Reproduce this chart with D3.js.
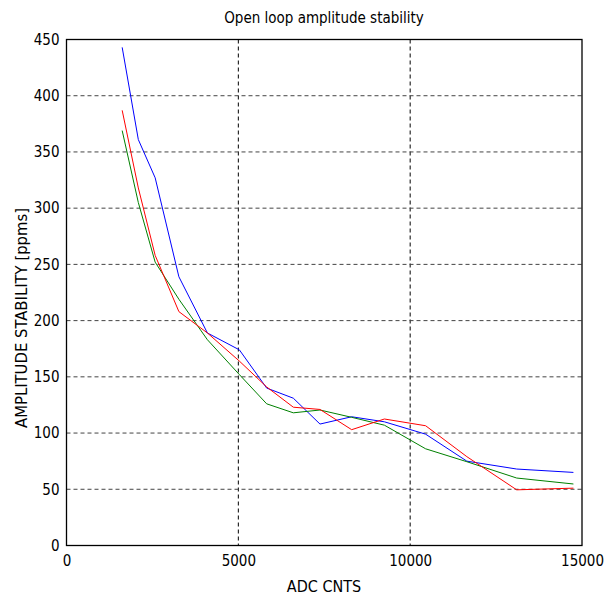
<!DOCTYPE html>
<html><head><meta charset="utf-8">
<script src="https://cdn.jsdelivr.net/npm/d3@7"></script>
<style>body{margin:0;background:#fff;} svg{display:block;}</style>
</head><body>
<svg id="c" width="606" height="597"></svg>
<script>
const adc = [1620, 2090, 2580, 3270, 4100, 5030, 5825, 6600, 7376, 8298, 9250, 10450, 11650, 13100, 14750];
const blue = [443, 361, 327, 239, 189, 174, 140, 131, 108, 114.5, 110, 99, 75, 68, 65];
const red = [387, 318, 258, 208, 189, 164, 141, 123, 121, 103, 112.5, 106.5, 79, 49.5, 51];
const green = [369, 305, 252, 219, 183, 152, 126, 118, 120.5, 114, 107, 86, 74.5, 60, 54.7];
const xTicks = [0, 5000, 10000, 15000];
const yTicks = [0, 50, 100, 150, 200, 250, 300, 350, 400, 450];
const seriesList = [{v: blue, c: "#0000ff"}, {v: green, c: "#008000"}, {v: red, c: "#ff0000"}];

const font = "'Liberation Sans Narrow','DejaVu Sans Condensed','Liberation Sans',sans-serif";
const L = 66.5, R = 582, T = 39.5, B = 545.5;
const svg = d3.select("#c");
const x = d3.scaleLinear().domain([0, 15000]).range([L, R]);
const y = d3.scaleLinear().domain([0, 450]).range([B, T]);

// grid
const g = svg.append("g");
g.selectAll("line.gx").data(xTicks.slice(1, -1)).join("line")
  .attr("x1", d => x(d)).attr("x2", d => x(d)).attr("y1", T).attr("y2", B)
  .attr("stroke", "#000").attr("stroke-width", 1).attr("stroke-dasharray", "4,3");
g.selectAll("line.gy").data(yTicks.slice(1, -1)).join("line")
  .attr("y1", d => y(d)).attr("y2", d => y(d)).attr("x1", L).attr("x2", R)
  .attr("stroke", "#444").attr("stroke-width", 1).attr("stroke-dasharray", "4,3");

// lines
const line = d3.line().x((d, i) => x(adc[i])).y(d => y(d));
seriesList.forEach(s => {
  svg.append("path").datum(s.v).attr("d", line).attr("fill", "none")
    .attr("stroke", s.c).attr("stroke-width", 1);
});

// box
svg.append("rect").attr("x", L).attr("y", T).attr("width", R - L).attr("height", B - T)
  .attr("fill", "none").attr("stroke", "#000").attr("stroke-width", 1.3);

// axes
const xa = svg.append("g").attr("transform", `translate(0,${B})`)
  .call(d3.axisBottom(x).tickValues(xTicks).tickFormat(d3.format("d")).tickSize(0).tickPadding(10));
const ya = svg.append("g").attr("transform", `translate(${L},0)`)
  .call(d3.axisLeft(y).tickValues(yTicks).tickFormat(d3.format("d")).tickSize(0).tickPadding(7));
[xa, ya].forEach(a => {
  a.select(".domain").remove();
  a.selectAll("text").attr("font-family", font).attr("font-size", 15).attr("fill", "#000");
});

svg.append("text").attr("x", 324).attr("y", 23).attr("text-anchor", "middle")
  .attr("font-family", font).attr("font-size", 15).text("Open loop amplitude stability");
svg.append("text").attr("x", 324).attr("y", 592).attr("text-anchor", "middle")
  .attr("font-family", font).attr("font-size", 16).text("ADC CNTS");
svg.append("text").attr("transform", "translate(27,318) rotate(-90)").attr("text-anchor", "middle")
  .attr("font-family", font).attr("font-size", 16.5).text("AMPLITUDE STABILITY [ppms]");
</script>
</body></html>
